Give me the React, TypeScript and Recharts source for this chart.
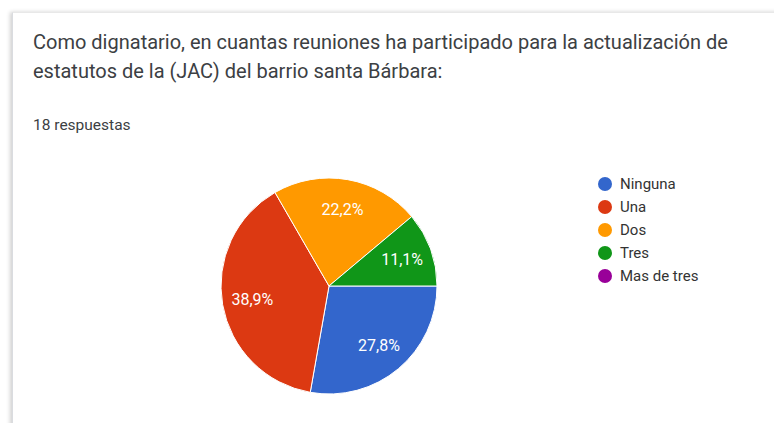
import { PieChart, Pie, Cell, Legend } from "recharts";

const categories = ["Ninguna", "Una", "Dos", "Tres", "Mas de tres"];
const counts = [5, 7, 4, 2, 0];
const colors = ["#3366cc", "#dc3912", "#ff9900", "#109618", "#990099"];

const total = counts.reduce((s, v) => s + v, 0);
const data = categories.map((name, i) => ({ name, value: counts[i] }));

const RAD = Math.PI / 180;
const FONT = "Roboto, Arial, sans-serif";

const renderLabel = (props: any) => {
  const { cx, cy, midAngle, outerRadius, value } = props;
  if (!value) return null;
  const r = outerRadius * 0.72;
  const x = cx + r * Math.cos(-midAngle * RAD);
  const y = cy + r * Math.sin(-midAngle * RAD);
  const pct = ((value / total) * 100).toFixed(1).replace(".", ",") + "%";
  return (
    <text
      x={x}
      y={y}
      fill="#ffffff"
      fontSize={16}
      fontFamily={FONT}
      textAnchor="middle"
      dominantBaseline="central"
    >
      {pct}
    </text>
  );
};

const renderLegend = () => (
  <div style={{ fontFamily: FONT, fontSize: 15, color: "#333333" }}>
    {categories.map((name, i) => (
      <div key={name} style={{ display: "flex", alignItems: "center", height: 23 }}>
        <span
          style={{
            width: 14,
            height: 14,
            borderRadius: "50%",
            background: colors[i],
            marginRight: 8,
            display: "inline-block",
          }}
        />
        <span>{name}</span>
      </div>
    ))}
  </div>
);

export default function App() {
  return (
    <div
      style={{
        position: "absolute",
        left: 0,
        top: 0,
        width: 774,
        height: 423,
        background: "#ffffff",
        overflow: "hidden",
      }}
    >
      <div
        style={{
          position: "absolute",
          left: 12,
          top: 12,
          width: 800,
          height: 440,
          background: "#ffffff",
          borderLeft: "1px solid #dadce0",
          borderTop: "1px solid #e8e8e8",
          boxShadow: "-2px 0 4px rgba(0,0,0,0.18)",
        }}
      />
      <div
        style={{
          position: "absolute",
          left: 33,
          top: 28,
          width: 715,
          fontFamily: FONT,
          fontSize: 20,
          lineHeight: "29px",
          color: "#3c4043",
        }}
      >
        Como dignatario, en cuantas reuniones ha participado para la actualización de estatutos de la (JAC) del barrio santa Bárbara:
      </div>
      <div
        style={{
          position: "absolute",
          left: 33,
          top: 116,
          fontFamily: FONT,
          fontSize: 15.5,
          color: "#3c4043",
        }}
      >
        18 respuestas
      </div>
      <div style={{ position: "absolute", left: 0, top: 0 }}>
        <PieChart width={774} height={423} margin={{ top: 0, right: 0, bottom: 0, left: 0 }}>
          <Pie
            data={data}
            dataKey="value"
            nameKey="name"
            cx={329}
            cy={286}
            outerRadius={108}
            startAngle={0}
            endAngle={-360}
            stroke="#ffffff"
            strokeWidth={1}
            label={renderLabel}
            labelLine={false}
            isAnimationActive={false}
          >
            {data.map((d, i) => (
              <Cell key={d.name} fill={colors[i]} />
            ))}
          </Pie>
          <Legend
            content={renderLegend}
            wrapperStyle={{ position: "absolute", left: 598, top: 172, width: 150 }}
          />
        </PieChart>
      </div>
    </div>
  );
}
